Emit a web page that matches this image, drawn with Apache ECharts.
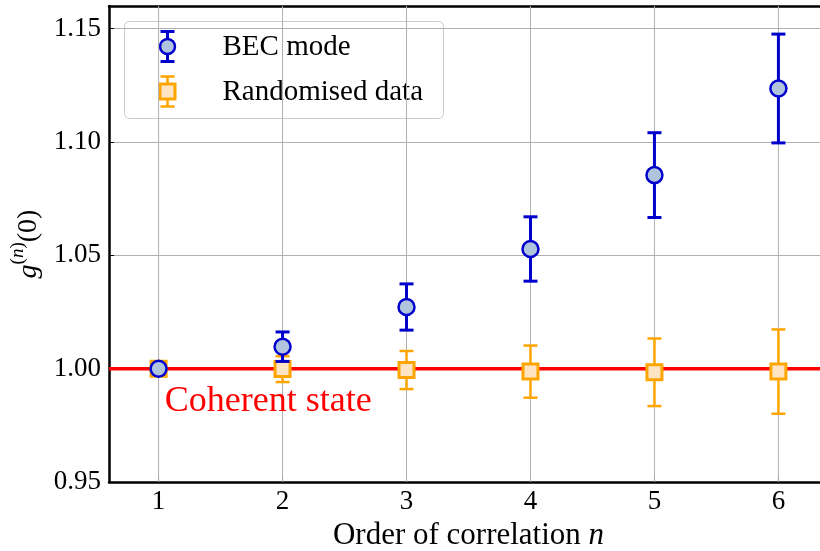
<!DOCTYPE html>
<html>
<head>
<meta charset="utf-8">
<script src="https://cdn.jsdelivr.net/npm/echarts@6/dist/echarts.min.js"></script>
<style>
  html, body { margin: 0; padding: 0; background: #fff; overflow: hidden; }
  #chart { width: 820px; height: 551px; }
</style>
</head>
<body>
<div id="chart"></div>
<script>
// Order of the correlation function
const orders = [1, 2, 3, 4, 5, 6];
// g^(n)(0) for the BEC mode, with one-sigma errors
const becMean = [1.000, 1.0097, 1.0272, 1.0528, 1.0854, 1.1236];
const becErr  = [0.001, 0.0065, 0.0102, 0.0142, 0.0187, 0.0240];
// g^(n)(0) for the randomised data, with one-sigma errors
const randMean = [1.000, 0.9998, 0.9994, 0.9987, 0.9984, 0.9987];
const randErr  = [0.001, 0.0057, 0.0084, 0.0115, 0.0149, 0.0186];
// Axis ticks
const yTicks = [0.95, 1.00, 1.05, 1.10, 1.15];
const coherentLevel = 1.0;

const FONT = '"Liberation Serif", "DejaVu Serif", serif';
const BLUE = '#0000cd', BLUE_FILL = '#b0c4de';
const ORANGE = '#ffa500', ORANGE_FILL = '#ffe4c4';
const GRID_GREY = '#b0b0b0';

function errRows(mean, err) {
  return orders.map((n, i) => [n, mean[i] - err[i], mean[i] + err[i]]);
}

function errorBars(color, lw, capHalf) {
  return function (params, api) {
    const x = api.value(0);
    const top = api.coord([x, api.value(2)]);
    const bot = api.coord([x, api.value(1)]);
    const st = { stroke: color, lineWidth: lw };
    return {
      type: 'group',
      children: [
        { type: 'line', shape: { x1: top[0], y1: top[1], x2: bot[0], y2: bot[1] }, style: st },
        { type: 'line', shape: { x1: top[0] - capHalf, y1: top[1], x2: top[0] + capHalf, y2: top[1] }, style: st },
        { type: 'line', shape: { x1: bot[0] - capHalf, y1: bot[1], x2: bot[0] + capHalf, y2: bot[1] }, style: st }
      ]
    };
  };
}

// vertical grid line at each integer order, spanning the plot height
function verticalGrid(params, api) {
  const cs = params.coordSys;
  const px = api.coord([api.value(0), yTicks[0]])[0];
  return { type: 'line', shape: { x1: px, y1: cs.y, x2: px, y2: cs.y + cs.height },
           style: { stroke: GRID_GREY, lineWidth: 1 } };
}

// horizontal reference line across the plot width
function horizontalLine(params, api) {
  const cs = params.coordSys;
  const py = api.coord([orders[0], api.value(0)])[1];
  return { type: 'line', shape: { x1: cs.x, y1: py, x2: cs.x + cs.width, y2: py },
           style: { stroke: '#ff0000', lineWidth: 3.5 } };
}

const chart = echarts.init(document.getElementById('chart'), null, { renderer: 'canvas' });

function spine() {
  return { show: true, onZero: false, lineStyle: { color: '#000', width: 2.5 } };
}

const option = {
  animation: false,
  backgroundColor: '#fff',
  grid: {
    left: 109, right: -8, top: 6, bottom: 69,
    outerBoundsMode: 'none', containLabel: false, show: false
  },
  xAxis: [
    {
      type: 'value', min: 0.6, max: 6.4,
      axisLine: spine(),
      axisTick: { show: true, inside: true, length: 5, customValues: orders,
        lineStyle: { color: '#000', width: 1 } },
      axisLabel: {
        customValues: orders,
        fontFamily: FONT, fontSize: 27, color: '#000', margin: 6,
        formatter: v => String(Math.round(v))
      },
      splitLine: { show: false },
      name: '{t|Order of correlation }{i|n}',
      nameLocation: 'middle', nameGap: 36,
      nameTextStyle: {
        rich: {
          t: { fontFamily: FONT, fontSize: 31, color: '#000' },
          i: { fontFamily: FONT, fontSize: 31, fontStyle: 'italic', color: '#000' }
        }
      }
    },
    {
      // top frame line
      type: 'value', position: 'top', min: 0.6, max: 6.4,
      axisLine: spine(),
      axisTick: { show: false }, axisLabel: { show: false }, splitLine: { show: false }
    }
  ],
  yAxis: {
    type: 'value', min: 0.95, max: 1.16, interval: 0.05,
    axisLine: spine(),
    axisTick: { show: true, inside: true, length: 5, lineStyle: { color: '#000', width: 1 } },
    axisLabel: {
      fontFamily: FONT, fontSize: 27, color: '#000', margin: 8,
      showMaxLabel: false,
      formatter: v => {
        const t = yTicks.find(k => Math.abs(k - v) < 1e-6);
        return t === undefined ? '' : t.toFixed(2);
      }
    },
    splitLine: { show: true, lineStyle: { color: GRID_GREY, width: 1 } },
    name: '{g|g}{s|(}{si|n}{s|)}{r|(0)}',
    nameLocation: 'middle', nameGap: 62,
    nameTextStyle: {
      rich: {
        g: { fontFamily: FONT, fontSize: 28, fontStyle: 'italic', color: '#000', lineHeight: 34, verticalAlign: 'bottom' },
        r: { fontFamily: FONT, fontSize: 28, color: '#000', lineHeight: 34, verticalAlign: 'bottom' },
        s: { fontFamily: FONT, fontSize: 19, color: '#000', lineHeight: 19, verticalAlign: 'top' },
        si: { fontFamily: FONT, fontSize: 19, fontStyle: 'italic', color: '#000', lineHeight: 19, verticalAlign: 'top' }
      }
    }
  },
  series: [
    {
      name: 'Vertical grid',
      type: 'custom',
      silent: true,
      data: orders.map(n => [n]),
      encode: { x: 0 },
      renderItem: verticalGrid,
      z: 1
    },
    {
      name: 'Coherent state line',
      type: 'custom',
      silent: true,
      data: [[coherentLevel]],
      encode: { y: 0 },
      renderItem: horizontalLine,
      z: 3
    },
    {
      name: 'Coherent state label',
      type: 'scatter',
      data: [[1.05, 0.9854]],
      symbolSize: 0,
      itemStyle: { opacity: 1 },
      label: {
        show: true, position: 'right', distance: 0,
        formatter: 'Coherent state',
        fontFamily: FONT, fontSize: 36, color: '#ff0000', opacity: 1
      },
      z: 4
    },
    {
      name: 'Randomised data err',
      type: 'custom',
      data: errRows(randMean, randErr),
      renderItem: errorBars(ORANGE, 2.5, 7),
      encode: { x: 0, y: [1, 2] },
      z: 10
    },
    {
      name: 'Randomised data',
      type: 'scatter',
      data: orders.map((n, i) => [n, randMean[i]]),
      symbol: 'rect', symbolSize: 15,
      itemStyle: { color: ORANGE_FILL, borderColor: ORANGE, borderWidth: 3, opacity: 1 },
      z: 11
    },
    {
      name: 'BEC mode err',
      type: 'custom',
      data: errRows(becMean, becErr),
      renderItem: errorBars(BLUE, 3, 7),
      encode: { x: 0, y: [1, 2] },
      z: 12
    },
    {
      name: 'BEC mode',
      type: 'scatter',
      data: orders.map((n, i) => [n, becMean[i]]),
      symbol: 'circle', symbolSize: 16,
      itemStyle: { color: BLUE_FILL, borderColor: BLUE, borderWidth: 2.5, opacity: 1 },
      z: 13
    }
  ],
  graphic: [
    {
      type: 'group', left: 124, top: 21, z: 100,
      children: [
        { type: 'rect', shape: { x: 0, y: 0, width: 319, height: 97, r: 5 },
          style: { fill: 'rgba(255,255,255,0.8)', stroke: '#cccccc', lineWidth: 1 } },
        // BEC mode key
        { type: 'line', shape: { x1: 43, y1: 10, x2: 43, y2: 40 }, style: { stroke: BLUE, lineWidth: 3 } },
        { type: 'line', shape: { x1: 36, y1: 10, x2: 50, y2: 10 }, style: { stroke: BLUE, lineWidth: 3 } },
        { type: 'line', shape: { x1: 36, y1: 40, x2: 50, y2: 40 }, style: { stroke: BLUE, lineWidth: 3 } },
        { type: 'circle', shape: { cx: 43, cy: 25, r: 7.5 }, style: { fill: BLUE_FILL, stroke: BLUE, lineWidth: 2.5 } },
        { type: 'text', x: 98, y: 26, style: { text: 'BEC mode', font: '29px ' + FONT, fill: '#000', verticalAlign: 'middle' } },
        // Randomised data key
        { type: 'line', shape: { x1: 43, y1: 55, x2: 43, y2: 85 }, style: { stroke: ORANGE, lineWidth: 2.5 } },
        { type: 'line', shape: { x1: 36, y1: 55, x2: 50, y2: 55 }, style: { stroke: ORANGE, lineWidth: 2.5 } },
        { type: 'line', shape: { x1: 36, y1: 85, x2: 50, y2: 85 }, style: { stroke: ORANGE, lineWidth: 2.5 } },
        { type: 'rect', shape: { x: 35.5, y: 62.5, width: 15, height: 15 }, style: { fill: ORANGE_FILL, stroke: ORANGE, lineWidth: 3 } },
        { type: 'text', x: 98, y: 71, style: { text: 'Randomised data', font: '29px ' + FONT, fill: '#000', verticalAlign: 'middle' } }
      ]
    }
  ]
};

chart.setOption(option);
</script>
</body>
</html>
